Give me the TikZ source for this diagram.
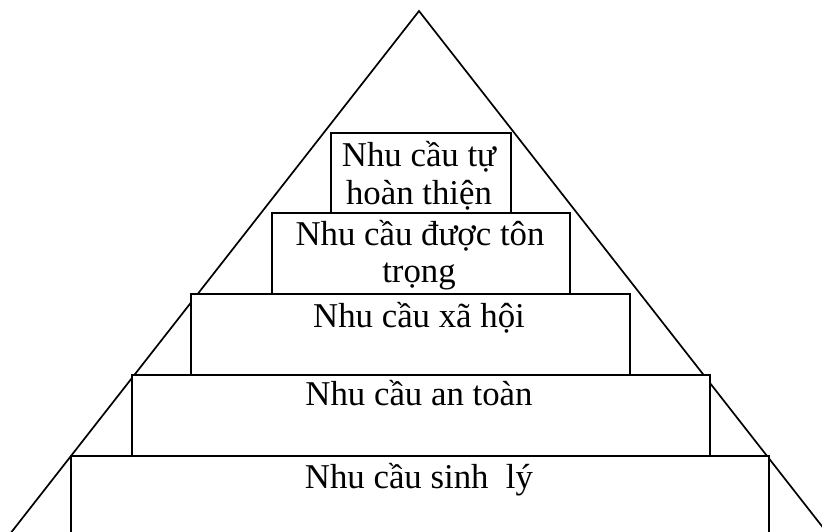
\documentclass[tikz,border=0pt]{standalone}
\usepackage{fontspec}
\setmainfont{Liberation Serif}
\begin{document}
\begin{tikzpicture}[x=1pt,y=-1pt,
  tier/.style={draw=black,fill=white,line width=1.7pt,rectangle,inner sep=0pt,anchor=north west},
  lbl/.style={font=\fontsize{34.8}{38}\selectfont,inner sep=0pt,anchor=base},
  edge/.style={draw=black,line width=1.7pt}]
\useasboundingbox (0,0) rectangle (822,531);
\clip (0,0) rectangle (822,531);
\coordinate (apex) at (419,11);
\coordinate (bl) at (-1,548);
\coordinate (br) at (839,548);
\draw[edge,line join=miter] (bl) -- (apex) -- (br);
\node[tier,minimum width=698pt,minimum height=100pt] (b5) at (70,455) {};
\node[tier,minimum width=578pt,minimum height=81pt] (b4) at (131,374) {};
\node[tier,minimum width=439pt,minimum height=81pt] (b3) at (190,293) {};
\node[tier,minimum width=298pt,minimum height=81pt] (b2) at (271,212) {};
\node[tier,minimum width=180pt,minimum height=80pt] (b1) at (330,132) {};
\node[lbl] (t1a) at (419,166) {Nhu cầu tự};
\node[lbl] (t1b) at (419,204) {hoàn thiện};
\node[lbl] (t2a) at (420,245) {Nhu cầu được tôn};
\node[lbl] (t2b) at (419,282) {trọng};
\node[lbl] (t3) at (419,327) {Nhu cầu xã hội};
\node[lbl] (t4) at (419,405) {Nhu cầu an toàn};
\node[lbl] (t5) at (419,488) {Nhu cầu sinh~ lý};
\end{tikzpicture}
\end{document}
